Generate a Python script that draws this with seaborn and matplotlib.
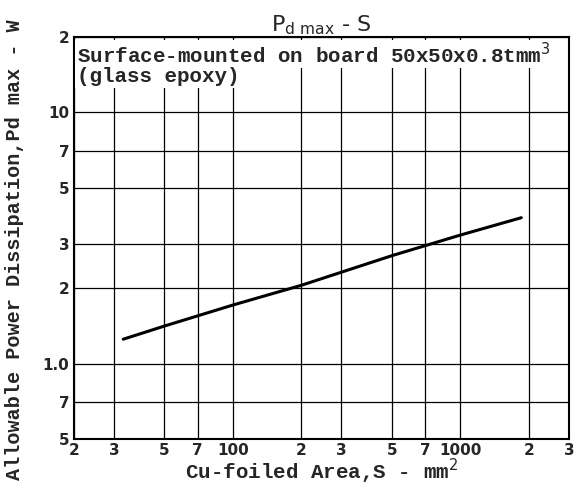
import numpy as np
import pandas as pd
import seaborn as sns
import matplotlib.pyplot as plt
from matplotlib.ticker import FixedLocator, FixedFormatter, NullLocator

# data
area = [33, 50, 100, 200, 500, 1000, 1850]
pd_max = [1.25, 1.41, 1.71, 2.05, 2.69, 3.25, 3.81]

x_ticks = [20, 30, 50, 70, 100, 200, 300, 500, 700, 1000, 2000, 3000]
x_labels = ["2", "3", "5", "7", "100", "2", "3", "5", "7", "1000", "2", "3"]
y_ticks = [0.5, 0.7, 1.0, 2, 3, 5, 7, 10, 20]
y_labels = ["5", "7", "1.0", "2", "3", "5", "7", "10", "2"]

df = pd.DataFrame({"S": area, "Pd": pd_max})

sns.set_style("white")
mono = "Liberation Mono"

fig = plt.figure(figsize=(5.76, 4.99), dpi=100)
ax = fig.add_axes([0.128, 0.120, 0.860, 0.806])

sns.lineplot(data=df, x="S", y="Pd", color="black", linewidth=2.2, ax=ax)
ax.set_xscale("log")
ax.set_yscale("log")
ax.set_xlim(20, 3000)
ax.set_ylim(0.5, 20)

ax.xaxis.set_major_locator(FixedLocator(x_ticks))
ax.xaxis.set_major_formatter(FixedFormatter(x_labels))
ax.xaxis.set_minor_locator(NullLocator())
ax.yaxis.set_major_locator(FixedLocator(y_ticks))
ax.yaxis.set_major_formatter(FixedFormatter(y_labels))
ax.yaxis.set_minor_locator(NullLocator())
ax.tick_params(length=0, pad=3, labelsize=11)
for lab in ax.get_xticklabels() + ax.get_yticklabels():
    lab.set_fontweight("bold")

ax.grid(True, color="black", linewidth=0.9)
for s in ax.spines.values():
    s.set_color("black")
    s.set_linewidth(1.5)

ax.set_xlabel("Cu-foiled Area,S - mm$^2$", fontfamily=mono, fontweight="bold",
              fontsize=15, labelpad=-1)
ax.set_ylabel("Allowable Power Dissipation,Pd max - W", fontfamily=mono,
              fontweight="bold", fontsize=14.5)
ax.yaxis.set_label_coords(-0.1, 0.47)
ax.set_title("P$_{\\mathrm{d\\ max}}$ - S", fontsize=16, pad=4)

ax.text(0.006, 0.988, "Surface-mounted on board 50x50x0.8tmm$^3$",
        transform=ax.transAxes, ha="left", va="top", fontfamily=mono,
        fontweight="bold", fontsize=15,
        bbox=dict(facecolor="white", edgecolor="none", pad=1))
ax.text(0.006, 0.925, "(glass epoxy)",
        transform=ax.transAxes, ha="left", va="top", fontfamily=mono,
        fontweight="bold", fontsize=15,
        bbox=dict(facecolor="white", edgecolor="none", pad=1))

fig.savefig("out.png", dpi=100)
